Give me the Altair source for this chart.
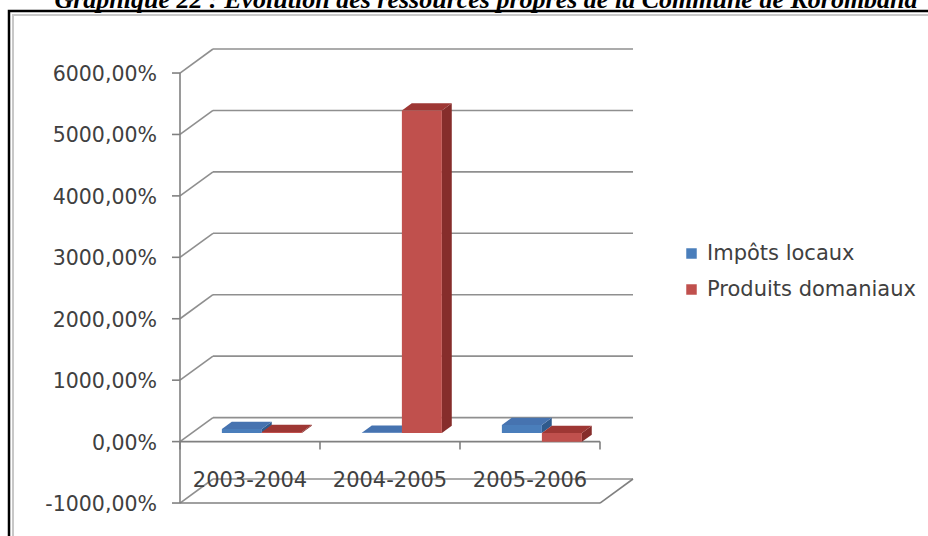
import altair as alt
import pandas as pd

# ---------------- data ----------------
title_text = "Graphique 22 : Evolution des ressources propres de la Commune de Korombana"
categories = ["2003-2004", "2004-2005", "2005-2006"]
series = ["Impôts locaux", "Produits domaniaux"]
impots_locaux = [65, 5, 130]
produits_domaniaux = [16, 5250, -145]
y_ticks = [-1000, 0, 1000, 2000, 3000, 4000, 5000, 6000]
y_tick_labels = ["-1000,00%", "0,00%", "1000,00%", "2000,00%", "3000,00%",
                 "4000,00%", "5000,00%", "6000,00%"]

# ---------------- style ----------------
front_colors = ["#4A7EBB", "#C0504D"]
top_colors = ["#4673B0", "#9E3734"]
side_colors = ["#2F5A8C", "#862D2B"]
grid_color = "#8F8F8F"
axis_color = "#808080"
text_color = "#404040"
FONT = "DejaVu Sans"

W, H = 928, 536
X_DOM = [-180 / 140, 748 / 140]
Y_DOM = [-94.4 / 0.0614286, 441.6 / 0.0614286]
xs = alt.Scale(domain=X_DOM, nice=False, zero=False)
ys = alt.Scale(domain=Y_DOM, nice=False, zero=False)

DX, DY = 0.2357, 391.0
F = 0.36
T = 0.30
BW = 0.2857

n_cat = len(categories)
values = [impots_locaux, produits_domaniaux]

front_rows, side_rows, top_rows = [], [], []
fid = 0
for i, cat in enumerate(categories):
    for s, name in enumerate(series):
        v = values[s][i]
        u0 = i + 0.5 - BW + s * BW + F * DX
        u1 = u0 + BW
        off = F * DY
        lo, hi = min(0, v) + off, max(0, v) + off
        tdx, tdy = T * DX, T * DY
        front_rows.append(dict(series=name, x=u0, x2=u1, y=lo, y2=hi, order=s))
        for xx, a, b in [(u1, hi, lo), (u1 + tdx, hi + tdy, lo + tdy)]:
            side_rows.append(dict(face=f"s{fid}", x=xx, ya=a, yb=b, col=side_colors[s]))
        for xx, a, b in [(u0, hi, hi), (u0 + tdx, hi + tdy, hi), (u1, hi + tdy, hi),
                         (u1 + tdx, hi + tdy, hi + tdy)]:
            top_rows.append(dict(face=f"t{fid}", x=xx, ya=a, yb=b, col=top_colors[s]))
        fid += 1

front_df = pd.DataFrame(front_rows)
side_df = pd.DataFrame(side_rows)
top_df = pd.DataFrame(top_rows)

grid_df = pd.DataFrame({"v": y_ticks})
grid_df["vb"] = grid_df["v"] + DY
grid_df["x0"] = DX
grid_df["x1"] = n_cat + DX
grid_df["zero"] = 0.0
grid_df["dx"] = DX
grid_df["label"] = y_tick_labels
grid_df["tick0"] = -8 / 140

back = alt.Chart(grid_df).mark_rule(color=grid_color, strokeWidth=1.6).encode(
    x=alt.X("x0:Q", scale=xs, axis=None), x2="x1:Q",
    y=alt.Y("vb:Q", scale=ys, axis=None), y2="vb:Q")
diag = alt.Chart(grid_df).mark_rule(color=grid_color, strokeWidth=1.6).encode(
    x=alt.X("zero:Q", scale=xs, axis=None), x2="dx:Q",
    y=alt.Y("v:Q", scale=ys, axis=None), y2="vb:Q")
yticks = alt.Chart(grid_df).mark_rule(color=axis_color, strokeWidth=1.6).encode(
    x=alt.X("tick0:Q", scale=xs, axis=None), x2="zero:Q",
    y=alt.Y("v:Q", scale=ys, axis=None))
ylabels = alt.Chart(grid_df).mark_text(align="right", baseline="middle", dx=-23, dy=2,
                                       font=FONT, fontSize=20.5, color=text_color).encode(
    x=alt.X("zero:Q", scale=xs, axis=None), y=alt.Y("v:Q", scale=ys, axis=None), text="label:N")

lo_v, hi_v = y_ticks[0], y_ticks[-1]
axes_df = pd.DataFrame([
    dict(x=0.0, x2=0.0, y=lo_v, y2=hi_v),
    dict(x=0.0, x2=float(n_cat), y=0.0, y2=0.0),
    dict(x=0.0, x2=float(n_cat), y=lo_v, y2=lo_v),
    dict(x=float(n_cat), x2=n_cat + DX, y=lo_v, y2=lo_v + DY),
])
axes = alt.Chart(axes_df).mark_rule(color=axis_color, strokeWidth=1.6).encode(
    x=alt.X("x:Q", scale=xs, axis=None), x2="x2:Q",
    y=alt.Y("y:Q", scale=ys, axis=None), y2="y2:Q")

ctick_df = pd.DataFrame({"x": [float(i) for i in range(n_cat + 1)], "y": 0.0, "y2": -130.0})
cticks = alt.Chart(ctick_df).mark_rule(color=axis_color, strokeWidth=1.6).encode(
    x=alt.X("x:Q", scale=xs, axis=None), y=alt.Y("y:Q", scale=ys, axis=None), y2="y2:Q")

cat_df = pd.DataFrame({"cat": categories, "x": [i + 0.5 for i in range(n_cat)], "y": float(lo_v)})
clabels = alt.Chart(cat_df).mark_text(align="center", baseline="middle", dy=-22,
                                      font=FONT, fontSize=21, color=text_color).encode(
    x=alt.X("x:Q", scale=xs, axis=None), y=alt.Y("y:Q", scale=ys, axis=None), text="cat:N")


def face_layer(df):
    return alt.Chart(df).mark_area(interpolate="linear", opacity=1).encode(
        x=alt.X("x:Q", scale=xs, axis=None),
        y=alt.Y("ya:Q", scale=ys, axis=None, stack=None),
        y2=alt.Y2("yb:Q"),
        detail="face:N",
        color=alt.Color("col:N", scale=None, legend=None))


sides = face_layer(side_df)
tops = face_layer(top_df)

fronts = alt.Chart(front_df).mark_rect().encode(
    x=alt.X("x:Q", scale=xs, axis=None), x2="x2:Q",
    y=alt.Y("y:Q", scale=ys, axis=None), y2="y2:Q",
    fill=alt.Fill("series:N", scale=alt.Scale(domain=series, range=front_colors),
                  legend=alt.Legend(title=None, orient="none", legendX=681, legendY=243,
                                    symbolType="square", symbolSize=110, symbolStrokeWidth=0,
                                    labelFont=FONT, labelFontSize=21, labelColor=text_color,
                                    labelOffset=5, rowPadding=14, labelLimit=400)),
    order=alt.Order("order:Q"))

frame_df = pd.DataFrame({"t": [title_text]})
outer = alt.Chart(frame_df).mark_rect(fill=None, stroke="black", strokeWidth=2.5).encode(
    x=alt.value(9), x2=alt.value(940), y=alt.value(11), y2=alt.value(560))
inner = alt.Chart(frame_df).mark_rect(fill=None, stroke="#C8C8C8", strokeWidth=2).encode(
    x=alt.value(13), x2=alt.value(940), y=alt.value(15), y2=alt.value(560))
title = alt.Chart(frame_df).mark_text(align="center", baseline="alphabetic", font="Liberation Serif",
                                      fontSize=26, fontWeight="bold", fontStyle="italic",
                                      color="black").encode(
    x=alt.value(486), y=alt.value(8), text="t:N")

chart = alt.layer(outer, inner, title, back, diag, axes, cticks, yticks, ylabels, clabels,
                  sides, tops, fronts).properties(
    width=W, height=H, autosize=alt.AutoSizeParams(type="none"), padding=0
).resolve_scale(color="independent", fill="independent").configure_view(stroke=None)

chart.save("out.html", embed_options={"renderer": "svg", "actions": False})
